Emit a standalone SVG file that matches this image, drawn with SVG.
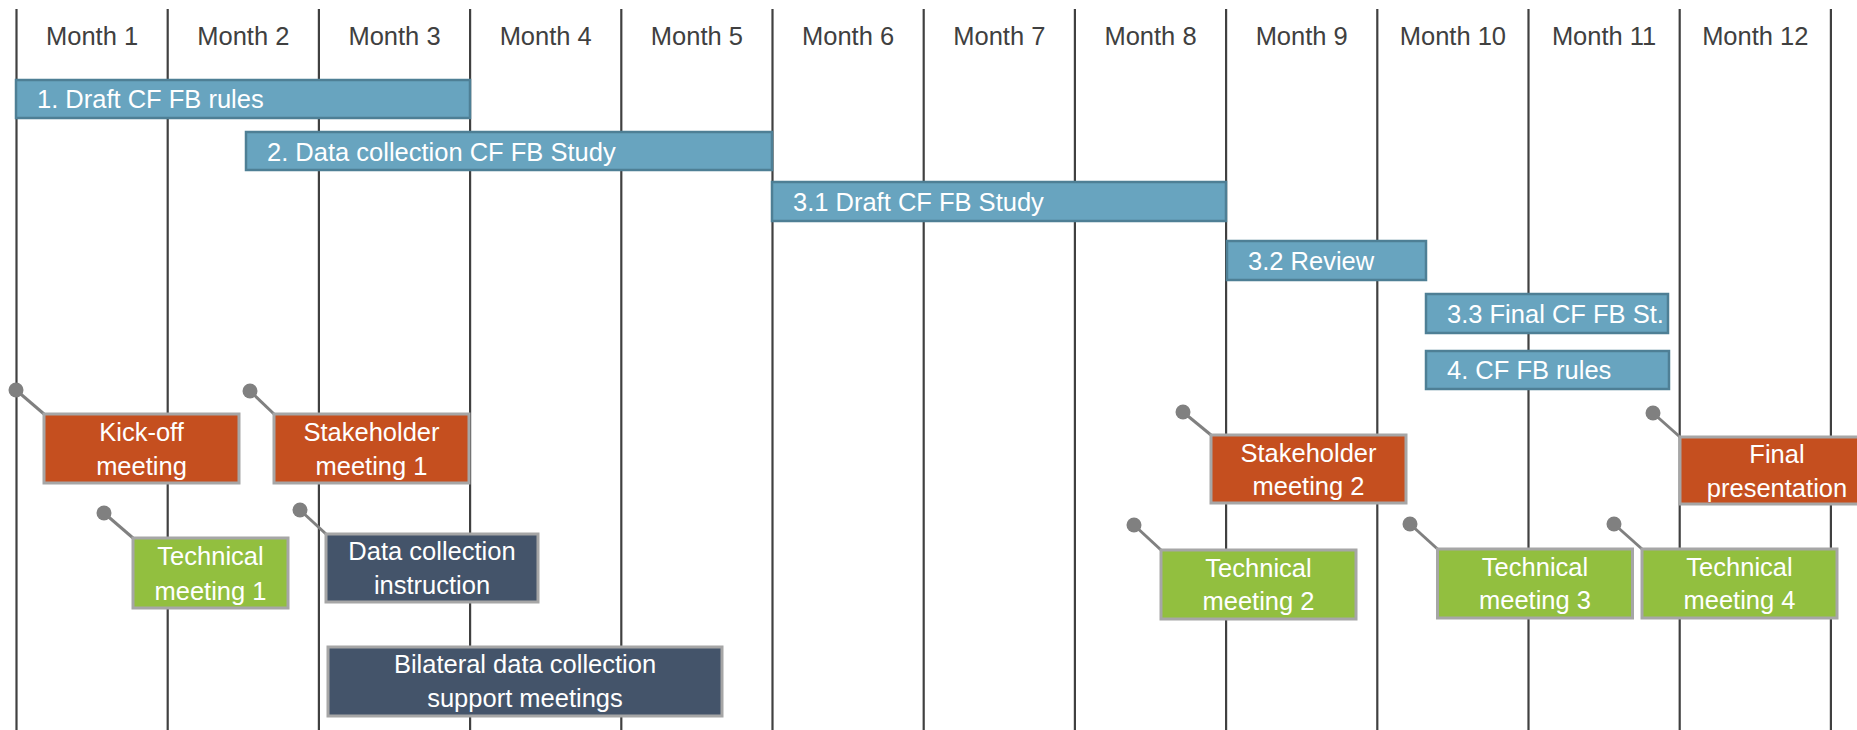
<svg xmlns="http://www.w3.org/2000/svg" width="1857" height="730" viewBox="0 0 1857 730">
  <style>
    text { font-family: "Liberation Sans", Arial, sans-serif; font-size: 25.5px; }
    .month { fill: #404040; text-anchor: middle; }
    .grid line { stroke: #404040; stroke-width: 2.2; }
    .bar rect { fill: #68a4bf; stroke: #4e7f95; stroke-width: 2.5; }
    .bar text { fill: #ffffff; }
    .box text { fill: #ffffff; text-anchor: middle; }
    .box rect { stroke: #a6a6a6; stroke-width: 3; }
    .milestone rect { fill: #c54f1f; }
    .technical rect { fill: #92bf3f; }
    .data rect { fill: #44546a; }
    .leader line { stroke: #808080; stroke-width: 3; }
    .leader circle { fill: #808080; }
  </style>

  <rect width="1857" height="730" fill="#ffffff"/>

  <!-- month grid -->
  <g class="grid" id="grid">
    <line x1="16.5" y1="9" x2="16.5" y2="730"/>
    <line x1="167.7" y1="9" x2="167.7" y2="730"/>
    <line x1="318.9" y1="9" x2="318.9" y2="730"/>
    <line x1="470.1" y1="9" x2="470.1" y2="730"/>
    <line x1="621.3" y1="9" x2="621.3" y2="730"/>
    <line x1="772.5" y1="9" x2="772.5" y2="730"/>
    <line x1="923.7" y1="9" x2="923.7" y2="730"/>
    <line x1="1074.9" y1="9" x2="1074.9" y2="730"/>
    <line x1="1226.1" y1="9" x2="1226.1" y2="730"/>
    <line x1="1377.3" y1="9" x2="1377.3" y2="730"/>
    <line x1="1528.5" y1="9" x2="1528.5" y2="730"/>
    <line x1="1679.7" y1="9" x2="1679.7" y2="730"/>
    <line x1="1830.9" y1="9" x2="1830.9" y2="730"/>
  </g>

  <g id="months">
    <text class="month" x="92.1" y="44.5">Month 1</text>
    <text class="month" x="243.3" y="44.5">Month 2</text>
    <text class="month" x="394.5" y="44.5">Month 3</text>
    <text class="month" x="545.7" y="44.5">Month 4</text>
    <text class="month" x="696.9" y="44.5">Month 5</text>
    <text class="month" x="848.1" y="44.5">Month 6</text>
    <text class="month" x="999.3" y="44.5">Month 7</text>
    <text class="month" x="1150.5" y="44.5">Month 8</text>
    <text class="month" x="1301.7" y="44.5">Month 9</text>
    <text class="month" x="1452.9" y="44.5">Month 10</text>
    <text class="month" x="1604.1" y="44.5">Month 11</text>
    <text class="month" x="1755.3" y="44.5">Month 12</text>
  </g>

  <!-- work package bars -->
  <g class="bar" id="task-1">
    <rect x="16" y="80" width="454" height="38"/>
    <text x="37" y="108">1. Draft CF FB rules</text>
  </g>
  <g class="bar" id="task-2">
    <rect x="246" y="132" width="526" height="38"/>
    <text x="267" y="160.5">2. Data collection CF FB Study</text>
  </g>
  <g class="bar" id="task-3-1">
    <rect x="772" y="182" width="454" height="39"/>
    <text x="793" y="210.5">3.1 Draft CF FB Study</text>
  </g>
  <g class="bar" id="task-3-2">
    <rect x="1227" y="241" width="199" height="39"/>
    <text x="1248" y="269.5">3.2 Review</text>
  </g>
  <g class="bar" id="task-3-3">
    <rect x="1426" y="294" width="242" height="39"/>
    <text x="1447" y="322.5">3.3 Final CF FB St.</text>
  </g>
  <g class="bar" id="task-4">
    <rect x="1426" y="351" width="243" height="38"/>
    <text x="1447" y="379">4. CF FB rules</text>
  </g>

  <!-- leader lines with their anchor dots -->
  <g class="leader" id="connectors">
    <line x1="16" y1="390" x2="44" y2="414"/>
    <circle cx="16" cy="390" r="7.5"/>
    <line x1="250" y1="391" x2="274" y2="414"/>
    <circle cx="250" cy="391" r="7.5"/>
    <line x1="104" y1="513" x2="133" y2="538"/>
    <circle cx="104" cy="513" r="7.5"/>
    <line x1="300" y1="510" x2="326" y2="534"/>
    <circle cx="300" cy="510" r="7.5"/>
    <line x1="1183" y1="412" x2="1211" y2="435"/>
    <circle cx="1183" cy="412" r="7.5"/>
    <line x1="1653" y1="413" x2="1680" y2="437"/>
    <circle cx="1653" cy="413" r="7.5"/>
    <line x1="1134" y1="525" x2="1161" y2="550"/>
    <circle cx="1134" cy="525" r="7.5"/>
    <line x1="1410" y1="524" x2="1437.5" y2="549"/>
    <circle cx="1410" cy="524" r="7.5"/>
    <line x1="1614" y1="524" x2="1642" y2="549"/>
    <circle cx="1614" cy="524" r="7.5"/>
  </g>

  <!-- meetings -->
  <g class="box milestone" id="kick-off">
    <rect x="44" y="414" width="195" height="69"/>
    <text x="141.5" y="440.5">Kick-off</text>
    <text x="141.5" y="475">meeting</text>
  </g>
  <g class="box milestone" id="stakeholder-1">
    <rect x="274" y="414" width="195" height="69"/>
    <text x="371.5" y="440.5">Stakeholder</text>
    <text x="371.5" y="474.5">meeting 1</text>
  </g>
  <g class="box technical" id="technical-1">
    <rect x="133" y="538" width="155" height="70"/>
    <text x="210.5" y="565">Technical</text>
    <text x="210.5" y="599.5">meeting 1</text>
  </g>
  <g class="box data" id="data-instruction">
    <rect x="326" y="534" width="212" height="68"/>
    <text x="432" y="560">Data collection</text>
    <text x="432" y="593.5">instruction</text>
  </g>
  <g class="box data" id="bilateral-support">
    <rect x="328" y="647" width="394" height="69"/>
    <text x="525" y="673">Bilateral data collection</text>
    <text x="525" y="706.5">support meetings</text>
  </g>
  <g class="box milestone" id="stakeholder-2">
    <rect x="1211" y="435" width="195" height="68"/>
    <text x="1308.5" y="461.5">Stakeholder</text>
    <text x="1308.5" y="494.5">meeting 2</text>
  </g>
  <g class="box milestone" id="final-presentation">
    <rect x="1680" y="437" width="195" height="67"/>
    <text x="1777" y="462.5">Final</text>
    <text x="1777" y="496.5">presentation</text>
  </g>
  <g class="box technical" id="technical-2">
    <rect x="1161" y="550" width="195" height="69"/>
    <text x="1258.5" y="577">Technical</text>
    <text x="1258.5" y="610">meeting 2</text>
  </g>
  <g class="box technical" id="technical-3">
    <rect x="1437.5" y="549" width="195" height="69"/>
    <text x="1535" y="576">Technical</text>
    <text x="1535" y="609">meeting 3</text>
  </g>
  <g class="box technical" id="technical-4">
    <rect x="1642" y="549" width="195" height="69"/>
    <text x="1739.5" y="576">Technical</text>
    <text x="1739.5" y="609">meeting 4</text>
  </g>
</svg>
